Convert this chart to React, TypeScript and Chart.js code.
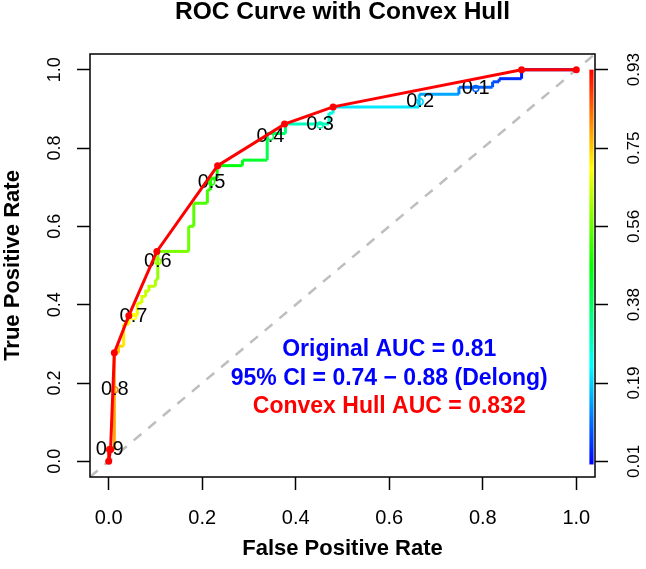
import React, { useEffect, useRef } from 'react';
import { Chart, registerables } from 'chart.js';

Chart.register(...registerables);

const FONT = "'Liberation Sans', Arial, Helvetica, sans-serif";
Chart.defaults.font.family = FONT;
Chart.defaults.color = '#000';

// ROC step curve (corner points) with the cutoff at each corner
const rocFpr = [0, 0, 0.012, 0.012, 0.021, 0.021, 0.032, 0.032, 0.043, 0.043, 0.061, 0.061, 0.071, 0.071, 0.079, 0.079, 0.086, 0.086, 0.1, 0.1, 0.105, 0.105, 0.171, 0.171, 0.182, 0.182, 0.211, 0.211, 0.218, 0.218, 0.232, 0.232, 0.286, 0.286, 0.339, 0.339, 0.378, 0.378, 0.471, 0.471, 0.48, 0.48, 0.664, 0.664, 0.749, 0.749, 0.821, 0.821, 0.835, 0.835, 0.883, 0.883, 1.0];
const rocTpr = [0, 0.03, 0.03, 0.277, 0.277, 0.294, 0.294, 0.35, 0.35, 0.372, 0.372, 0.404, 0.404, 0.421, 0.421, 0.434, 0.434, 0.447, 0.447, 0.464, 0.464, 0.536, 0.536, 0.6, 0.6, 0.659, 0.659, 0.693, 0.693, 0.723, 0.723, 0.755, 0.755, 0.769, 0.769, 0.837, 0.837, 0.861, 0.861, 0.889, 0.889, 0.905, 0.905, 0.937, 0.937, 0.955, 0.955, 0.969, 0.969, 0.977, 0.977, 1.0, 1.0];
const rocCutoff = [0.93, 0.91, 0.9, 0.78, 0.76, 0.75, 0.74, 0.72, 0.71, 0.7, 0.69, 0.68, 0.67, 0.66, 0.66, 0.65, 0.65, 0.64, 0.64, 0.63, 0.62, 0.6, 0.58, 0.57, 0.56, 0.55, 0.54, 0.53, 0.52, 0.5, 0.49, 0.48, 0.46, 0.45, 0.43, 0.4, 0.38, 0.36, 0.3, 0.28, 0.27, 0.26, 0.22, 0.19, 0.16, 0.13, 0.1, 0.09, 0.08, 0.07, 0.05, 0.03, 0.01];

// Convex hull vertices
const hullFpr = [0, 0.004, 0.012, 0.043, 0.103, 0.233, 0.376, 0.48, 0.883, 1.0];
const hullTpr = [0, 0.03, 0.277, 0.372, 0.536, 0.755, 0.861, 0.905, 1.0, 1.0];

// Printed cutoffs
const cutLabels = ['0.9', '0.8', '0.7', '0.6', '0.5', '0.4', '0.3', '0.2', '0.1'];
const cutValues = [0.9, 0.8, 0.7, 0.6, 0.5, 0.4, 0.3, 0.2, 0.1];
const cutFpr = [0.002, 0.013, 0.053, 0.105, 0.22, 0.346, 0.452, 0.666, 0.785];
const cutTpr = [0.03, 0.183, 0.37, 0.51, 0.713, 0.829, 0.859, 0.918, 0.952];

// Axes
const axisTicks = [0, 0.2, 0.4, 0.6, 0.8, 1.0];
const xTickLabels = ['0.0', '0.2', '0.4', '0.6', '0.8', '1.0'];
const yTickLabels = ['0.0', '0.2', '0.4', '0.6', '0.8', '1.0'];
const colorbarLabels = ['0.01', '0.19', '0.38', '0.56', '0.75', '0.93'];
const cutMin = 0.01;
const cutMax = 0.93;

// Chance diagonal
const diagX = [-0.04, 1.04];
const diagY = [-0.04, 1.04];

// Annotation text
const annoLines = ['Original AUC = 0.81', '95% CI = 0.74 \u2212 0.88 (Delong)', 'Convex Hull AUC = 0.832'];
const annoColors = ['#0000ff', '#0000ff', '#ff0000'];
const annoX = 0.6;
const annoY = [0.285, 0.212, 0.14];

function cutColor(c: number): string {
  const t = Math.max(0, Math.min(1, (c - cutMin) / (cutMax - cutMin)));
  const hue = 240 * (1 - t);
  return `hsl(${hue.toFixed(1)}, 100%, 50%)`;
}

const decorPlugin = {
  id: 'decor',
  beforeDatasetDraw(chart: any, args: any) {
    if (args.index !== 0) return;
    const { ctx } = chart;
    const x = chart.scales.x;
    const y = chart.scales.y;
    ctx.save();
    ctx.font = `20px ${FONT}`;
    ctx.textAlign = 'center';
    ctx.textBaseline = 'middle';
    cutLabels.forEach((t, i) => {
      const px = x.getPixelForValue(cutFpr[i]);
      const py = y.getPixelForValue(cutTpr[i]);
      ctx.fillStyle = '#000';
      ctx.fillText(t, px, py);
      ctx.beginPath();
      ctx.arc(px, py, 3, 0, Math.PI * 2);
      ctx.strokeStyle = cutColor(cutValues[i]);
      ctx.lineWidth = 1.5;
      ctx.stroke();
    });
    ctx.restore();
  },
  afterDatasetsDraw(chart: any) {
    const { ctx, chartArea } = chart;
    const x = chart.scales.x;
    const y = chart.scales.y;
    ctx.save();
    // colour bar
    const cx0 = x.getPixelForValue(1.028);
    const cx1 = x.getPixelForValue(1.037);
    const cy0 = y.getPixelForValue(1.0);
    const cy1 = y.getPixelForValue(-0.008);
    const grad = ctx.createLinearGradient(0, cy0, 0, cy1);
    for (let k = 0; k <= 12; k++) {
      grad.addColorStop(k / 12, `hsl(${20 * k}, 100%, 50%)`);
    }
    ctx.fillStyle = grad;
    ctx.fillRect(cx0, cy0, cx1 - cx0, cy1 - cy0);
    // box
    ctx.strokeStyle = '#000';
    ctx.lineWidth = 1.5;
    ctx.strokeRect(chartArea.left, chartArea.top, chartArea.right - chartArea.left, chartArea.bottom - chartArea.top);
    // annotations
    ctx.font = `bold 23px ${FONT}`;
    ctx.textAlign = 'center';
    ctx.textBaseline = 'middle';
    annoLines.forEach((t, i) => {
      ctx.fillStyle = annoColors[i];
      ctx.fillText(t, x.getPixelForValue(annoX), y.getPixelForValue(annoY[i]));
    });
    ctx.restore();
  },
};

const setTicks = (s: any) => {
  s.ticks = axisTicks.map((v) => ({ value: v }));
};

export default function App() {
  const ref = useRef<HTMLCanvasElement>(null);

  useEffect(() => {
    const canvas = ref.current;
    if (!canvas) return;
    const rocData = rocFpr.map((v, i) => ({ x: v, y: rocTpr[i] }));
    const hullData = hullFpr.map((v, i) => ({ x: v, y: hullTpr[i] }));
    const diagData = diagX.map((v, i) => ({ x: v, y: diagY[i] }));

    const chart = new Chart(canvas, {
      type: 'line',
      data: {
        datasets: [
          {
            label: 'Convex Hull',
            data: hullData,
            borderColor: '#ff0000',
            backgroundColor: '#ff0000',
            borderWidth: 3,
            pointRadius: 3.5,
            pointBackgroundColor: '#ff0000',
            pointBorderWidth: 0,
            tension: 0,
          },
          {
            label: 'ROC',
            data: rocData,
            borderColor: '#00ff00',
            borderWidth: 3,
            pointRadius: 0,
            tension: 0,
            segment: {
              borderColor: (c: any) => cutColor(rocCutoff[c.p1DataIndex]),
            },
          },
          {
            label: 'Chance',
            data: diagData,
            borderColor: '#bebebe',
            borderWidth: 2.5,
            borderDash: [10, 9],
            pointRadius: 0,
          },
        ],
      } as any,
      options: {
        animation: false,
        responsive: false,
        events: [],
        layout: { padding: 0 },
        plugins: {
          legend: { display: false },
          tooltip: { enabled: false },
          title: {
            display: true,
            text: 'ROC Curve with Convex Hull',
            fullSize: false,
            color: '#000',
            font: { size: 24.5, weight: 'bold', family: FONT },
            padding: { top: -2, bottom: 26.6 },
          },
        },
        scales: {
          x: {
            type: 'linear',
            min: -0.04,
            max: 1.04,
            afterBuildTicks: setTicks,
            afterFit: (s: any) => {
              s.height = 92;
            },
            ticks: {
              callback: (_v: any, i: number) => xTickLabels[i],
              font: { size: 20 },
              color: '#000',
              padding: 16,
              autoSkip: false,
              maxRotation: 0,
            },
            grid: { drawOnChartArea: false, tickLength: 13, color: '#000', tickColor: '#000', tickWidth: 1.5 },
            border: { display: false },
            title: {
              display: true,
              text: 'False Positive Rate',
              color: '#000',
              font: { size: 22, weight: 'bold' },
              padding: { top: 0, bottom: 7 },
            },
          },
          y: {
            type: 'linear',
            position: 'left',
            min: -0.04,
            max: 1.04,
            afterBuildTicks: setTicks,
            afterFit: (s: any) => {
              s.width = 90;
            },
            ticks: {
              callback: (_v: any, i: number) => yTickLabels[i],
              font: { size: 18 },
              color: '#000',
              minRotation: 90,
              maxRotation: 90,
              crossAlign: 'center',
              padding: 9,
              autoSkip: false,
            },
            grid: { drawOnChartArea: false, tickLength: 13, color: '#000', tickColor: '#000', tickWidth: 1.5 },
            border: { display: false },
            title: {
              display: true,
              text: 'True Positive Rate',
              color: '#000',
              font: { size: 22, weight: 'bold' },
              padding: { top: 0, bottom: 0 },
            },
          },
          y2: {
            type: 'linear',
            position: 'right',
            min: -0.04,
            max: 1.04,
            afterBuildTicks: setTicks,
            afterFit: (s: any) => {
              s.width = 51;
            },
            ticks: {
              callback: (_v: any, i: number) => colorbarLabels[i],
              font: { size: 17 },
              color: '#000',
              minRotation: 90,
              maxRotation: 90,
              crossAlign: 'center',
              padding: 10,
              autoSkip: false,
            },
            grid: { drawOnChartArea: false, tickLength: 13, color: '#000', tickColor: '#000', tickWidth: 1.5 },
            border: { display: false },
          },
        },
      } as any,
      plugins: [decorPlugin],
    });
    return () => chart.destroy();
  }, []);

  return (
    <div style={{ position: 'fixed', left: 0, top: 0, width: 646, height: 569, background: '#fff' }}>
      <canvas ref={ref} width={646} height={569} style={{ display: 'block', width: 646, height: 569 }} />
    </div>
  );
}
